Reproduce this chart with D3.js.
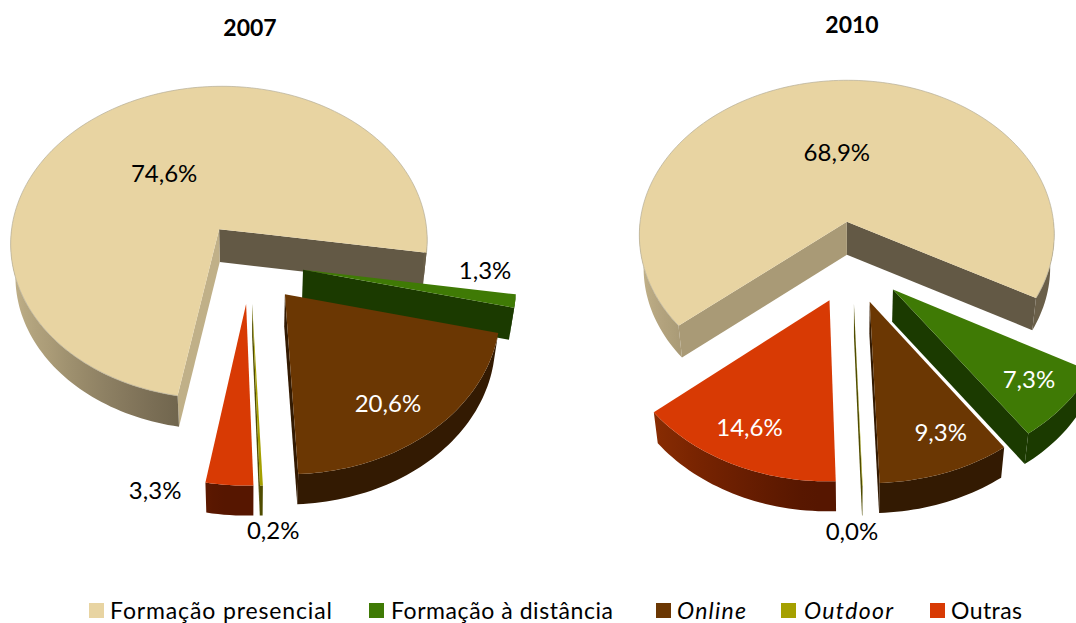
<!DOCTYPE html>
<html>
<head>
<meta charset="utf-8">
<script src="https://d3js.org/d3.v7.min.js"></script>
<style>
html, body { margin: 0; padding: 0; background: #fff; overflow: hidden; }
text { font-family: Lato, "Open Sans", sans-serif; }
</style>
</head>
<body>
<div id="ChartArea"></div>
<script>
// ------------------------------------------------------------------
// data
const categories = ["Formação presencial", "Formação à distância", "Online", "Outdoor", "Outras"];
const italicCategories = ["Online", "Outdoor"];
const years = ["2007", "2010"];
const values2007 = [74.6, 1.3, 20.6, 0.2, 3.3];
const values2010 = [68.9, 7.3, 9.3, 0.03, 14.6];
const labels2007 = ["74,6%", "1,3%", "20,6%", "0,2%", "3,3%"];
const labels2010 = ["68,9%", "7,3%", "9,3%", "0,0%", "14,6%"];

// colours per category
const topColors = ["#E8D4A2", "#3F7A05", "#6B3703", "#A5A000", "#D83A04"];
const wallLight = ["#CFBF94", "#1B3A00", "#331A02", "#5A5700", "#8A2C02"];
const wallMid = ["#AB9C78", "#1B3A00", "#331A02", "#4F4C00", "#8A2C02"];
const wallDark = ["#6A5F49", "#1B3A00", "#331A02", "#4F4C00", "#561600"];
const endWall = ["#635945", "#1B3A00", "#331A02", "#4F4C00", "#561600"];
const startWallBig = ["#C0B088", "#A99A76"];
const labelColor2007 = ["#000", "#000", "#fff", "#000", "#000"];
const labelColor2010 = ["#000", "#fff", "#fff", "#000", "#fff"];

// ------------------------------------------------------------------
// layout of the 3d pies
const width = 1076, height = 623;
const radius = 208, explode = 53, tilt = 0.777, persp = 0.000395, widen = 1.015;
const wallShrink = 0.98;
const centerX = [250, 852];
const centerY = 262;
const startAngles = [190, 230.5];
const titleY = [36, 33];
// label offset from the tip of each slice
const labelOffset2007 = [[-55, -56], [182, 1], [103, 109], [21, 227], [-91, 187]];
const labelOffset2010 = [[-10, -69], [136, 90], [71, 131], [-2, 228], [-80, 127]];

// the side walls look a little taller at the back of the picture
const wallHeight = d3.scaleLinear().domain([222, 480]).range([33, 30]).clamp(true);
const rad = d3.scaleLinear().domain([0, 360]).range([0, 2 * Math.PI]);
const line = d3.line();

const svg = d3.select("#ChartArea").append("svg")
    .attr("width", width)
    .attr("height", height);
const defs = svg.append("defs");
let gradientCount = 0;

function draw_pie(p, values, labels, offsets, colors)
{
  const cx = centerX[p], cy = centerY;
  const pie = d3.pie().sort(null)
      .startAngle(rad(startAngles[p]))
      .endAngle(rad(startAngles[p] + 360));
  const arcs = pie(values);
  const gPie = svg.append("g").attr("class", "pie" + years[p]);

  // ground plane (y towards the viewer) to screen
  function project(X, Y) {
    const s = 1 + persp * Y;
    return [cx + X * s * widen, cy + tilt * Y * s];
  }
  function lower(pt) {
    return [cx + (pt[0] - cx) * wallShrink, pt[1] + wallHeight(pt[1])];
  }

  arcs.forEach(function(d, i) {
    const a0 = d.startAngle, a1 = d.endAngle, mid = (a0 + a1) / 2;
    const ax = explode * Math.sin(mid), ay = -explode * Math.cos(mid);
    const tip = project(ax, ay);
    const rim = function(a) {
      return project(ax + radius * Math.sin(a), ay - radius * Math.cos(a));
    };
    const sweep = function(from, to) {
      const n = Math.max(2, Math.ceil((to - from) / rad(1.5)));
      return d3.range(n + 1).map(function(k) { return rim(from + (to - from) * k / n); });
    };
    const g = gPie.append("g").attr("class", "slice");

    // straight sides, only the ones turned to the viewer
    const side = function(a, color) {
      const r = rim(a);
      g.append("path")
          .attr("d", line([tip, r, lower(r), lower(tip)]) + "Z")
          .attr("fill", color);
    };
    if (Math.sin(a1) > 0) side(a1, endWall[i]);
    if (Math.sin(a0) < 0) side(a0, i === 0 ? startWallBig[p] : wallDark[i]);

    // outer wall on the front half, shaded by angle
    const shade = d3.scaleLinear()
        .domain([rad(90), rad(185), rad(231), rad(270)])
        .range([wallDark[i], wallDark[i], wallMid[i], wallLight[i]])
        .clamp(true);
    [[rad(90), rad(270), 0], [rad(450), rad(630), rad(360)]].forEach(function(f) {
      const from = Math.max(a0, f[0]), to = Math.min(a1, f[1]);
      if (to <= from) return;
      const pts = sweep(from, to);
      const x0 = pts[0][0], x1 = pts[pts.length - 1][0];
      const id = "wall" + (gradientCount++);
      const grad = defs.append("linearGradient").attr("id", id)
          .attr("gradientUnits", "userSpaceOnUse")
          .attr("x1", x0).attr("x2", x1).attr("y1", 0).attr("y2", 0);
      d3.range(13).forEach(function(k) {
        const a = from + (to - from) * k / 12;
        grad.append("stop")
            .attr("offset", (rim(a)[0] - x0) / (x1 - x0))
            .attr("stop-color", shade(a - f[2]));
      });
      g.append("path")
          .attr("d", line(pts.concat(pts.map(lower).reverse())) + "Z")
          .attr("fill", "url(#" + id + ")");
    });

    // top face
    g.append("path")
        .attr("d", line([tip].concat(sweep(a0, a1))) + "Z")
        .attr("fill", topColors[i]);

    // thin grey edge on the big slice
    if (i === 0) {
      g.append("path")
          .attr("d", line(sweep(a0, a1)))
          .attr("fill", "none")
          .attr("stroke", "#B5AD98")
          .attr("stroke-width", 0.7);
    }

    // data label
    gPie.append("text")
        .attr("class", "label")
        .attr("x", tip[0] + offsets[i][0])
        .attr("y", tip[1] + offsets[i][1])
        .attr("dy", ".35em")
        .attr("text-anchor", "middle")
        .attr("font-size", 24)
        .attr("fill", colors[i])
        .text(labels[i]);
  });

  // labels go above every slice
  gPie.selectAll("text.label").raise();

  svg.append("text")
      .attr("class", "title")
      .attr("x", centerX[p])
      .attr("y", titleY[p])
      .attr("text-anchor", "middle")
      .attr("font-size", 23)
      .attr("font-weight", "bold")
      .text(years[p]);
}

draw_pie(0, values2007, labels2007, labelOffset2007, labelColor2007);
draw_pie(1, values2010, labels2010, labelOffset2010, labelColor2010);

// ------------------------------------------------------------------
// legend
const legendX = [89, 369, 656, 781, 930];
const legendTextX = [110, 391, 677, 804, 951];
const legendTextWidth = [222, 222, 69, 89, 71];
const legend = svg.append("g").attr("class", "legend");
categories.forEach(function(c, i) {
  legend.append("rect")
      .attr("x", legendX[i]).attr("y", 603)
      .attr("width", 15).attr("height", 15)
      .attr("fill", topColors[i]);
  legend.append("text")
      .attr("x", legendTextX[i]).attr("y", 619)
      .attr("font-size", 23)
      .attr("textLength", legendTextWidth[i])
      .attr("lengthAdjust", "spacing")
      .attr("font-style", italicCategories.indexOf(c) >= 0 ? "italic" : "normal")
      .attr("fill", "#000")
      .text(c);
});
</script>
</body>
</html>
